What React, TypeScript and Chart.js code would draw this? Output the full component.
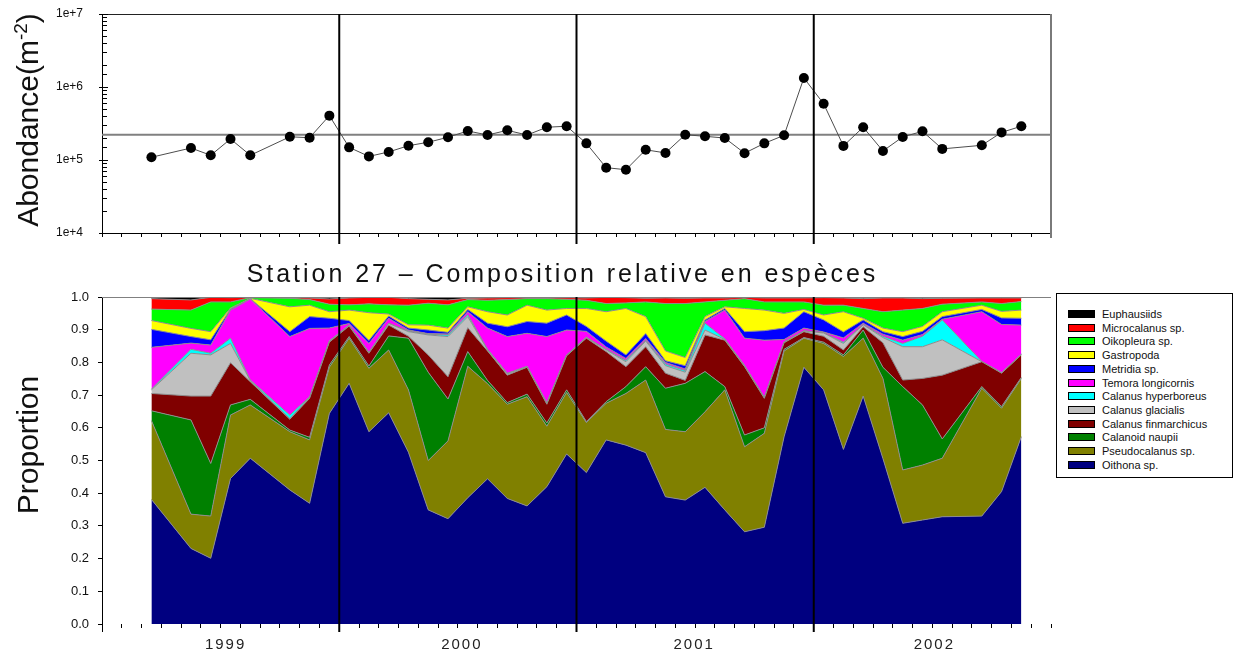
import { useEffect, useRef } from 'react';
import { Chart, registerables } from 'chart.js';

Chart.register(...registerables);

const FONT = "'Liberation Sans', Arial, Helvetica, sans-serif";

// Sampling months at station 27
const sampleMonths = [
  '1999-03', '1999-05', '1999-06', '1999-07', '1999-08', '1999-10', '1999-11', '1999-12',
  '2000-01', '2000-02', '2000-03', '2000-04', '2000-05', '2000-06', '2000-07', '2000-08', '2000-09', '2000-10', '2000-11', '2000-12',
  '2001-01', '2001-02', '2001-03', '2001-04', '2001-05', '2001-06', '2001-07', '2001-08', '2001-09', '2001-10', '2001-11', '2001-12',
  '2002-01', '2002-02', '2002-03', '2002-04', '2002-05', '2002-06', '2002-07', '2002-09', '2002-10', '2002-11',
];

// Total zooplankton abundance (ind. m-2)
const abundance = [
  1.09e5, 1.46e5, 1.16e5, 1.94e5, 1.16e5, 2.08e5, 2.02e5, 4.05e5,
  1.49e5, 1.12e5, 1.29e5, 1.57e5, 1.75e5, 2.05e5, 2.5e5, 2.2e5, 2.55e5, 2.2e5, 2.81e5, 2.9e5,
  1.69e5, 7.85e4, 7.36e4, 1.38e5, 1.25e5, 2.22e5, 2.11e5, 2.0e5, 1.24e5, 1.69e5, 2.18e5, 1.33e6,
  5.9e5, 1.56e5, 2.81e5, 1.33e5, 2.07e5, 2.47e5, 1.42e5, 1.59e5, 2.39e5, 2.9e5,
];
const meanAbundance = 2.22e5;

// Relative composition (proportion of total), one array per taxon
const oithona = [
  0.381, 0.231, 0.201, 0.445, 0.507, 0.41, 0.369, 0.644,
  0.736, 0.588, 0.646, 0.525, 0.349, 0.322, 0.386, 0.444, 0.384, 0.361, 0.42, 0.52,
  0.463, 0.563, 0.547, 0.524, 0.389, 0.379, 0.418, 0.349, 0.282, 0.296, 0.573, 0.785,
  0.716, 0.534, 0.697, 0.506, 0.308, 0.318, 0.328, 0.33, 0.405, 0.573,
];
const pseudocalanus = [
  0.241, 0.105, 0.129, 0.194, 0.163, 0.178, 0.194, 0.141,
  0.138, 0.194, 0.192, 0.191, 0.151, 0.238, 0.402, 0.291, 0.288, 0.334, 0.185, 0.188,
  0.153, 0.112, 0.158, 0.222, 0.206, 0.209, 0.231, 0.367, 0.26, 0.287, 0.262, 0.089,
  0.142, 0.284, 0.177, 0.245, 0.163, 0.168, 0.179, 0.391, 0.255, 0.178,
];
const calanoidNaupii = [
  0.03, 0.288, 0.161, 0.031, 0.017, 0.005, 0.008, 0.007,
  0.005, 0.007, 0.043, 0.158, 0.27, 0.128, 0.045, 0.01, 0.005, 0.008, 0.01, 0.008,
  0.003, 0.005, 0.021, 0.041, 0.126, 0.148, 0.123, 0.01, 0.036, 0.017, 0.005, 0.002,
  0.004, 0.005, 0.025, 0.034, 0.255, 0.184, 0.059, 0.005, 0.005, 0.003,
];
const finmarchicus = [
  0.053, 0.073, 0.206, 0.129, 0.054, 0.033, 0.119, 0.07,
  0.032, 0.039, 0.033, 0.006, 0.053, 0.068, 0.073, 0.09, 0.084, 0.082, 0.057, 0.104,
  0.255, 0.153, 0.061, 0.061, 0.046, 0.009, 0.112, 0.142, 0.209, 0.09, 0.02, 0.018,
  0.018, 0.015, 0.01, 0.075, 0.02, 0.081, 0.195, 0.076, 0.102, 0.069,
];
const glacialis = [
  0.011, 0.131, 0.126, 0.059, 0.003, 0.002, 0.003, 0.002,
  0.002, 0.002, 0.005, 0.014, 0.061, 0.123, 0.034, 0.003, 0.004, 0.002, 0.003, 0.002,
  0.002, 0.005, 0.015, 0.017, 0.023, 0.025, 0.015, 0.002, 0.002, 0.002, 0.002, 0.002,
  0.01, 0.02, 0.006, 0.016, 0.102, 0.097, 0.108, 0.0, 0.001, 0.001,
];
const hyperboreus = [
  0.002, 0.012, 0.005, 0.016, 0.002, 0.011, 0.002, 0.002,
  0.001, 0.001, 0.001, 0.002, 0.002, 0.005, 0.006, 0.002, 0.002, 0.001, 0.002, 0.001,
  0.001, 0.002, 0.004, 0.003, 0.005, 0.005, 0.021, 0.002, 0.002, 0.002, 0.001, 0.001,
  0.001, 0.004, 0.001, 0.004, 0.01, 0.032, 0.061, 0.001, 0.001, 0.001,
];
const temora = [
  0.128, 0.019, 0.025, 0.086, 0.248, 0.24, 0.209, 0.039,
  0.005, 0.027, 0.015, 0.003, 0.002, 0.003, 0.009, 0.065, 0.112, 0.101, 0.202, 0.076,
  0.018, 0.007, 0.006, 0.005, 0.005, 0.005, 0.005, 0.088, 0.083, 0.174, 0.007, 0.008,
  0.002, 0.013, 0.004, 0.006, 0.01, 0.005, 0.002, 0.152, 0.147, 0.089,
];
const metridia = [
  0.055, 0.02, 0.016, 0.003, 0.001, 0.015, 0.036, 0.03,
  0.009, 0.009, 0.007, 0.006, 0.011, 0.005, 0.007, 0.015, 0.03, 0.036, 0.041, 0.046,
  0.015, 0.018, 0.011, 0.015, 0.005, 0.01, 0.005, 0.005, 0.02, 0.029, 0.035, 0.05,
  0.037, 0.018, 0.01, 0.008, 0.011, 0.01, 0.008, 0.007, 0.02, 0.021,
];
const gastropoda = [
  0.027, 0.025, 0.025, 0.003, 0.001, 0.076, 0.035, 0.02,
  0.032, 0.085, 0.006, 0.01, 0.015, 0.013, 0.008, 0.035, 0.036, 0.05, 0.04, 0.02,
  0.055, 0.09, 0.142, 0.052, 0.03, 0.025, 0.01, 0.005, 0.071, 0.063, 0.045, 0.007,
  0.015, 0.062, 0.005, 0.011, 0.015, 0.015, 0.015, 0.013, 0.02, 0.025,
];
const oikopleura = [
  0.035, 0.056, 0.091, 0.019, 0.002, 0.026, 0.017, 0.023,
  0.016, 0.027, 0.028, 0.06, 0.067, 0.071, 0.022, 0.035, 0.047, 0.02, 0.035, 0.028,
  0.025, 0.025, 0.017, 0.045, 0.145, 0.165, 0.045, 0.02, 0.03, 0.025, 0.035, 0.023,
  0.03, 0.02, 0.03, 0.05, 0.066, 0.055, 0.023, 0.01, 0.024, 0.026,
];
const microcalanus = [
  0.032, 0.031, 0.014, 0.013, 0.001, 0.003, 0.005, 0.016,
  0.021, 0.02, 0.023, 0.02, 0.012, 0.015, 0.004, 0.007, 0.006, 0.003, 0.003, 0.005,
  0.007, 0.019, 0.016, 0.011, 0.017, 0.016, 0.012, 0.007, 0.004, 0.012, 0.012, 0.012,
  0.023, 0.022, 0.03, 0.042, 0.037, 0.03, 0.018, 0.012, 0.017, 0.011,
];
const euphausiids = [
  0.005, 0.009, 0.001, 0.002, 0.001, 0.001, 0.003, 0.006,
  0.003, 0.001, 0.001, 0.005, 0.007, 0.009, 0.004, 0.003, 0.002, 0.002, 0.002, 0.002,
  0.003, 0.001, 0.002, 0.004, 0.003, 0.004, 0.003, 0.003, 0.001, 0.003, 0.003, 0.003,
  0.002, 0.003, 0.005, 0.003, 0.003, 0.005, 0.004, 0.003, 0.003, 0.003,
];

// Stack order, bottom to top
const speciesNames = [
  'Oithona sp.', 'Pseudocalanus sp.', 'Calanoid naupii', 'Calanus finmarchicus',
  'Calanus glacialis', 'Calanus hyperboreus', 'Temora longicornis', 'Metridia sp.',
  'Gastropoda', 'Oikopleura sp.', 'Microcalanus sp.', 'Euphausiids',
];
const speciesColors = [
  '#000080', '#808000', '#008000', '#800000', '#c0c0c0', '#00ffff',
  '#ff00ff', '#0000ff', '#ffff00', '#00ff00', '#ff0000', '#000000',
];
const speciesValues = [
  oithona, pseudocalanus, calanoidNaupii, finmarchicus, glacialis, hyperboreus,
  temora, metridia, gastropoda, oikopleura, microcalanus, euphausiids,
];

const firstYear = 1999;
const yearLabels = ['1999', '2000', '2001', '2002'];
const yearLabelMonths = [6.25, 18.2, 29.95, 42.1];
const yearStarts = ['2000-01', '2001-01', '2002-01'];

// months since January 1999; samples sit mid-month
const monthStart = (s: string) => {
  const [y, m] = s.split('-').map(Number);
  return (y - firstYear) * 12 + (m - 1);
};
const monthMid = (s: string) => monthStart(s) + 0.5;
const AXIS_END = yearLabels.length * 12;

const topFrame = {
  id: 'topFrame',
  afterDraw(chart: any) {
    const { ctx, chartArea: a, scales } = chart;
    const xs = scales.x;
    const ys = scales.y;
    ctx.save();
    ctx.strokeStyle = '#222';
    ctx.lineWidth = 1;
    ctx.beginPath();
    ctx.moveTo(a.left, a.top + 0.5);
    ctx.lineTo(a.right, a.top + 0.5);
    ctx.stroke();
    ctx.strokeStyle = '#7a7a7a';
    ctx.lineWidth = 2;
    ctx.beginPath();
    ctx.moveTo(a.right, a.top);
    ctx.lineTo(a.right, a.bottom + 5);
    ctx.stroke();
    // log-axis tick marks drawn inside the frame
    ctx.strokeStyle = '#000';
    ctx.lineWidth = 1;
    ys.ticks.forEach((t: any) => {
      const y = Math.round(ys.getPixelForValue(t.value)) + 0.5;
      const e = Math.log10(t.value);
      const major = Math.abs(e - Math.round(e)) < 1e-6;
      ctx.beginPath();
      ctx.moveTo(a.left - (major ? 3 : 0), y);
      ctx.lineTo(a.left + (major ? 6 : 5), y);
      ctx.stroke();
    });
    ctx.lineWidth = 2;
    yearStarts.forEach((s) => {
      const x = xs.getPixelForValue(monthStart(s));
      ctx.beginPath();
      ctx.moveTo(x, a.top);
      ctx.lineTo(x, a.bottom + 11);
      ctx.stroke();
    });
    ctx.restore();
  },
};

const bottomFrame = {
  id: 'bottomFrame',
  afterDraw(chart: any) {
    const { ctx, chartArea: a, scales } = chart;
    const xs = scales.x;
    ctx.save();
    ctx.strokeStyle = '#808080';
    ctx.lineWidth = 1;
    ctx.beginPath();
    ctx.moveTo(a.left, a.top + 0.5);
    ctx.lineTo(a.right, a.top + 0.5);
    ctx.stroke();
    ctx.strokeStyle = '#000';
    ctx.beginPath();
    ctx.moveTo(a.left + 0.5, a.bottom);
    ctx.lineTo(a.left + 0.5, a.bottom + 8);
    ctx.stroke();
    ctx.lineWidth = 2;
    yearStarts.forEach((s) => {
      const x = xs.getPixelForValue(monthStart(s));
      ctx.beginPath();
      ctx.moveTo(x, a.top);
      ctx.lineTo(x, a.bottom + 8);
      ctx.stroke();
    });
    ctx.fillStyle = '#222';
    ctx.font = `15px ${FONT}`;
    (ctx as any).letterSpacing = '2px';
    ctx.textAlign = 'center';
    ctx.textBaseline = 'middle';
    yearLabels.forEach((lab, i) => {
      ctx.fillText(lab, xs.getPixelForValue(yearLabelMonths[i]), a.bottom + 21);
    });
    ctx.restore();
  },
};

export default function App() {
  const topRef = useRef<HTMLCanvasElement | null>(null);
  const botRef = useRef<HTMLCanvasElement | null>(null);

  useEffect(() => {
    const xs = sampleMonths.map(monthMid);

    const top = new Chart(topRef.current as HTMLCanvasElement, {
      type: 'line',
      data: {
        datasets: [
          {
            data: xs.map((x, i) => ({ x, y: abundance[i] })),
            borderColor: '#4d4d4d',
            borderWidth: 1,
            pointRadius: 5,
            pointBackgroundColor: '#000',
            pointBorderColor: '#000',
            pointBorderWidth: 0,
            tension: 0,
          },
          {
            data: [{ x: 0, y: meanAbundance }, { x: AXIS_END, y: meanAbundance }],
            borderColor: '#808080',
            borderWidth: 2,
            pointRadius: 0,
            tension: 0,
          },
        ],
      },
      options: {
        animation: false,
        responsive: false,
        layout: { autoPadding: false, padding: { left: 0, right: 184, top: 14, bottom: 0 } },
        plugins: { legend: { display: false }, tooltip: { enabled: false }, title: { display: false } },
        scales: {
          x: {
            type: 'linear',
            min: 0,
            max: AXIS_END,
            afterFit: (s: any) => { s.height = 17; },
            ticks: { stepSize: 1, autoSkip: false, maxRotation: 0, callback: () => '' },
            grid: { drawOnChartArea: false, drawTicks: true, tickLength: 4, color: '#000' },
            border: { color: '#000', width: 1 },
          },
          y: {
            type: 'logarithmic',
            min: 1e4,
            max: 1e7,
            afterFit: (s: any) => { s.width = 102; },
            ticks: {
              autoSkip: false,
              padding: 0,
              color: '#111',
              font: { family: FONT, size: 12 },
              callback: (v: any) => {
                const e = Math.log10(Number(v));
                return Math.abs(e - Math.round(e)) < 1e-6 ? `1e+${Math.round(e)}` : '';
              },
            },
            // invisible tick marks only set the gap between labels and axis
            grid: { drawOnChartArea: false, drawTicks: true, tickLength: 19, color: 'rgba(0,0,0,0)' },
            border: { color: '#000', width: 1 },
          },
        },
      } as any,
      plugins: [topFrame],
    });

    const bottom = new Chart(botRef.current as HTMLCanvasElement, {
      type: 'line',
      data: {
        datasets: speciesValues.map((vals, i) => ({
          label: speciesNames[i],
          data: xs.map((x, j) => ({ x, y: vals[j] })),
          backgroundColor: speciesColors[i],
          borderColor: '#8c8c8c',
          borderWidth: 1,
          pointRadius: 0,
          tension: 0,
          fill: i === 0 ? 'origin' : '-1',
        })),
      },
      options: {
        animation: false,
        responsive: false,
        layout: { autoPadding: false, padding: { left: 0, right: 184, top: 47, bottom: 0 } },
        plugins: { legend: { display: false }, tooltip: { enabled: false }, title: { display: false } },
        scales: {
          x: {
            type: 'linear',
            min: 0,
            max: AXIS_END,
            afterFit: (s: any) => { s.height = 32; },
            ticks: { stepSize: 1, autoSkip: false, maxRotation: 0, callback: () => '' },
            grid: { drawOnChartArea: false, drawTicks: true, tickLength: 4, color: '#000' },
            border: { display: false },
          },
          y: {
            type: 'linear',
            stacked: true,
            min: 0,
            max: 1,
            afterFit: (s: any) => { s.width = 102; },
            ticks: {
              stepSize: 0.1,
              autoSkip: false,
              padding: 9,
              color: '#111',
              font: { family: FONT, size: 13 },
              callback: (v: any) => Number(v).toFixed(1),
            },
            grid: { drawOnChartArea: false, drawTicks: true, tickLength: 4, color: '#000' },
            border: { color: '#000', width: 1 },
          },
        },
      } as any,
      plugins: [bottomFrame],
    });

    return () => {
      top.destroy();
      bottom.destroy();
    };
  }, []);

  const legendOrder = speciesNames.map((_, i) => speciesNames.length - 1 - i);

  return (
    <div
      style={{
        position: 'absolute', left: 0, top: 0, width: 1235, height: 656,
        background: '#fff', overflow: 'hidden', fontFamily: FONT, color: '#111',
      }}
    >
      <canvas ref={topRef} width={1235} height={250} style={{ position: 'absolute', left: 0, top: 0 }} />
      <canvas ref={botRef} width={1235} height={406} style={{ position: 'absolute', left: 0, top: 250 }} />

      <div
        style={{
          position: 'absolute', left: 28 - 130, top: 120 - 18, width: 260, height: 36,
          lineHeight: '36px', fontSize: 30, textAlign: 'center', whiteSpace: 'nowrap',
          transform: 'rotate(-90deg)',
        }}
      >
        Abondance(m<span style={{ fontSize: 19, position: 'relative', top: -11 }}>-2</span>)
      </div>

      <div
        style={{
          position: 'absolute', left: 28 - 100, top: 445 - 18, width: 200, height: 36,
          lineHeight: '36px', fontSize: 30, textAlign: 'center', whiteSpace: 'nowrap',
          transform: 'rotate(-90deg)',
        }}
      >
        Proportion
      </div>

      <div
        style={{
          position: 'absolute', left: 0, top: 259, width: 1125, height: 28,
          lineHeight: '28px', fontSize: 25, letterSpacing: '2.95px', textAlign: 'center', whiteSpace: 'nowrap',
        }}
      >
        Station 27 – Composition relative en espèces
      </div>

      <div
        style={{
          position: 'absolute', left: 1056, top: 293, width: 177, height: 185,
          border: '1px solid #000', boxSizing: 'border-box', background: '#fff',
        }}
      >
        {legendOrder.map((idx, r) => (
          <div
            key={speciesNames[idx]}
            style={{ position: 'absolute', left: 0, top: 13 + r * 13.7, height: 14, width: 175 }}
          >
            <div
              style={{
                position: 'absolute', left: 11, top: 3, width: 27, height: 8,
                boxSizing: 'border-box', border: '1px solid #000', background: speciesColors[idx],
              }}
            />
            <div
              style={{
                position: 'absolute', left: 45, top: 0, lineHeight: '14px', fontSize: 11,
                whiteSpace: 'nowrap', color: '#111',
              }}
            >
              {speciesNames[idx]}
            </div>
          </div>
        ))}
      </div>
    </div>
  );
}
